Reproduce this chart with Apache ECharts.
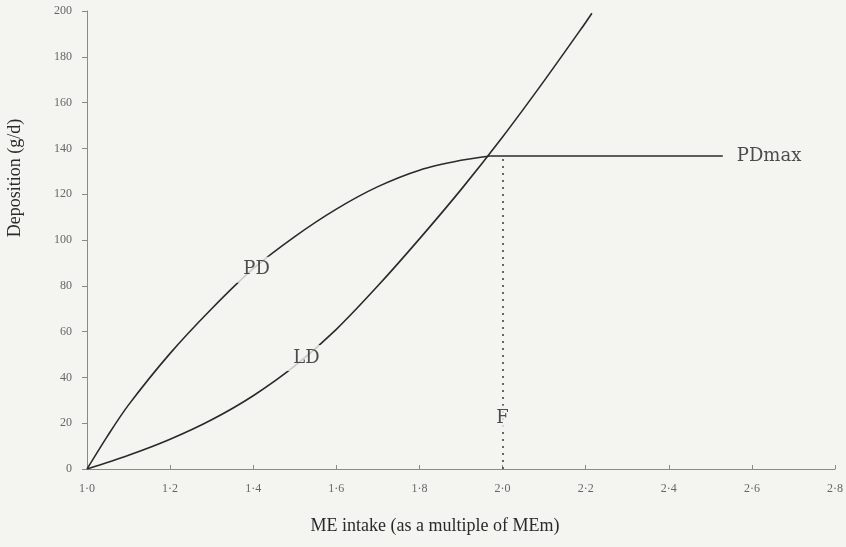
<!DOCTYPE html>
<html>
<head>
<meta charset="utf-8">
<script src="https://cdn.jsdelivr.net/npm/echarts@6/dist/echarts.min.js"></script>
<style>
html,body{margin:0;padding:0;background:#f4f4f1;}
#c{width:846px;height:547px;}
</style>
</head>
<body>
<div id="c"></div>
<script>
// ---- data ----
const xTicks = [1.0, 1.2, 1.4, 1.6, 1.8, 2.0, 2.2, 2.4, 2.6, 2.8];
const yTicks = [0, 20, 40, 60, 80, 100, 120, 140, 160, 180, 200];
const pdX = [1.0, 1.05, 1.1, 1.2, 1.3, 1.4, 1.5, 1.6, 1.7, 1.8, 1.9, 1.97];
const pdY = [0, 14.6, 28, 50.5, 70, 87.5, 101.5, 113.5, 123.3, 130.5, 134.8, 136.7];
const pdMaxX = [1.97, 2.53];
const pdMaxY = [136.7, 136.7];
const ldX = [1.0, 1.1, 1.2, 1.3, 1.4, 1.5, 1.6, 1.7, 1.8, 1.9, 2.0, 2.1, 2.2, 2.215];
const ldY = [0, 6, 13, 21.5, 32, 45, 61, 80, 100.5, 122, 145, 169.5, 195, 199];
const fLine = [[2.0, 0], [2.0, 136.7]];
const curveLabels = [
  {name: 'PD', x: 1.408, y: 87},
  {name: 'LD', x: 1.528, y: 48.5},
  {name: 'F', x: 2.0, y: 22}
];
const pdMaxLabel = {name: 'PDmax', x: 2.53, y: 136.7};

const BG = '#f4f4f1';
const zip = (xs, ys) => xs.map((x, i) => [x, ys[i]]);
const fmt = v => v.toFixed(1).replace('.', '\u00B7');

const chart = echarts.init(document.getElementById('c'));
chart.setOption({
  backgroundColor: BG,
  animation: false,
  grid: {left: 87, right: 9, top: 11, bottom: 78},
  xAxis: {
    type: 'value', min: xTicks[0], max: xTicks[xTicks.length - 1], interval: 0.2,
    axisLine: {lineStyle: {color: '#8a8a8a', width: 1}},
    axisTick: {inside: true, length: 4, lineStyle: {color: '#8a8a8a'}},
    axisLabel: {formatter: fmt, color: '#666', fontFamily: 'Liberation Serif', fontSize: 12, margin: 14},
    splitLine: {show: false}
  },
  yAxis: {
    type: 'value', min: yTicks[0], max: yTicks[yTicks.length - 1], interval: 20,
    axisLine: {show: true, lineStyle: {color: '#8a8a8a', width: 1}},
    axisTick: {show: true, length: 5, lineStyle: {color: '#8a8a8a'}},
    axisLabel: {color: '#666', fontFamily: 'Liberation Serif', fontSize: 12, margin: 15},
    splitLine: {show: false}
  },
  graphic: [
    {type: 'text', x: 15, y: 178, rotation: Math.PI / 2,
     style: {text: 'Deposition (g/d)', fill: '#2a2a2a', font: '18px "Liberation Serif"', align: 'center', verticalAlign: 'middle'}},
    {type: 'text', x: 435, y: 526,
     style: {text: 'ME intake (as a multiple of MEm)', fill: '#2a2a2a', font: '18px "Liberation Serif"', align: 'center', verticalAlign: 'middle'}}
  ],
  series: [
    {
      name: 'PD', type: 'line', data: zip(pdX, pdY), smooth: 0.3,
      showSymbol: false, symbol: 'none', z: 2,
      lineStyle: {color: '#2a2a2a', width: 1.6}
    },
    {
      name: 'PDmax', type: 'line', data: zip(pdMaxX, pdMaxY),
      showSymbol: false, symbol: 'none', z: 2,
      lineStyle: {color: '#2a2a2a', width: 1.6},
      markLine: {
        silent: true, symbol: 'none', label: {show: false},
        lineStyle: {color: '#444', width: 1.6, type: [2, 5]},
        data: [[{coord: fLine[0]}, {coord: fLine[1]}]]
      }
    },
    {
      name: 'LD', type: 'line', data: zip(ldX, ldY), smooth: 0.3,
      showSymbol: false, symbol: 'none', z: 2,
      lineStyle: {color: '#2a2a2a', width: 1.6}
    },
    {
      type: 'scatter', z: 5, symbolSize: 0,
      data: curveLabels.map(l => ({name: l.name, value: [l.x, l.y]})),
      label: {
        show: true, position: 'inside', formatter: p => p.name,
        color: '#222', fontFamily: 'DejaVu Serif', fontSize: 18,
        backgroundColor: BG, padding: [4, 7]
      }
    },
    {
      type: 'scatter', z: 5, symbolSize: 0,
      data: [{name: pdMaxLabel.name, value: [pdMaxLabel.x, pdMaxLabel.y]}],
      label: {
        show: true, position: 'right', distance: 14, formatter: p => p.name,
        color: '#222', fontFamily: 'DejaVu Serif', fontSize: 18
      }
    }
  ]
});
</script>
</body>
</html>
